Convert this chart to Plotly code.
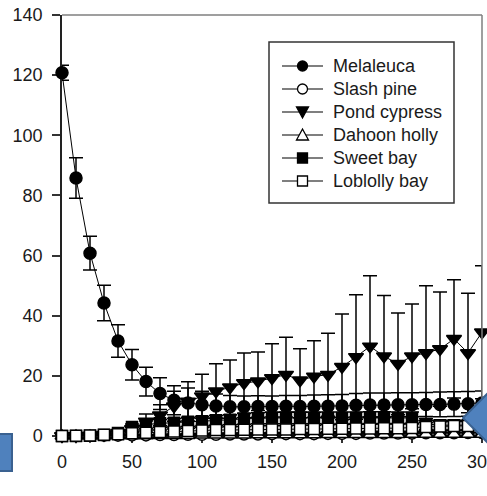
import plotly.graph_objects as go

days = list(range(0, 301, 10))

melaleuca = [120.8, 85.8, 60.8, 44.2, 31.6, 23.7, 18.1, 14.1, 11.9, 11.0,
             10.4, 10.0, 9.7, 9.7, 9.8, 9.8, 9.9, 9.8, 9.9, 9.9,
             10.0, 10.2, 10.3, 10.3, 10.4, 10.4, 10.5, 10.5, 10.6, 10.7, 11.0]
melaleuca_err = [2.5, 6.7, 5.6, 5.9, 5.4, 5.1, 4.8, 5.3, 4.8, 5.0,
                 4.5, 4.0, 3.8, 3.6, 3.6, 3.5, 3.6, 3.7, 3.7, 3.8,
                 3.8, 3.9, 4.0, 4.0, 4.0, 4.0, 4.0, 4.1, 4.1, 4.1, 4.0]

slash_pine = [0, 0, 0, 0.1, 0.1, 0.2, 0.2, 0.3, 0.3, 0.4,
              0.4, 0.4, 0.5, 0.5, 0.5, 0.6, 0.6, 0.6, 0.6, 0.7,
              0.7, 0.7, 0.8, 0.8, 0.8, 0.8, 0.9, 0.9, 0.9, 1.0, 1.0]
slash_pine_err = [0, 0, 0, 0.1, 0.1, 0.2, 0.2, 0.3, 0.3, 0.4,
                  0.4, 0.4, 0.5, 0.5, 0.5, 0.6, 0.6, 0.6, 0.6, 0.7,
                  0.7, 0.7, 0.8, 0.8, 0.8, 0.8, 0.9, 0.9, 0.9, 1.0, 1.0]

pond_cypress = [0, 0, 0.2, 0.4, 1.0, 2.3, 4.8, 6.9, 9.9, 11.5,
                13.2, 14.9, 16.2, 17.6, 18.2, 19.3, 20.4, 18.5, 19.8, 20.4,
                23.0, 26.3, 29.8, 26.5, 24.0, 26.5, 27.6, 28.9, 32.3, 27.6, 34.5]
pond_cypress_err = [0, 0, 0.2, 0.4, 0.6, 1.2, 2.5, 3.5, 5.0, 6.5,
                    7.3, 9.1, 9.1, 10.0, 9.7, 11.4, 12.4, 10.5, 11.9, 13.8,
                    17.6, 20.7, 23.5, 20.2, 16.9, 17.4, 22.4, 19.0, 19.7, 19.9, 22.1]

dahoon_holly = [0, 0, 0, 0, 0.1, 0.1, 0.1, 0.2, 0.2, 0.2,
                0.3, 0.3, 0.3, 0.3, 0.4, 0.4, 0.4, 0.4, 0.4, 0.5,
                0.5, 0.5, 0.5, 0.5, 0.5, 0.6, 0.6, 0.6, 0.6, 0.6, 0.6]
dahoon_holly_err = [0, 0, 0, 0, 0.1, 0.1, 0.1, 0.2, 0.2, 0.2,
                    0.3, 0.3, 0.3, 0.3, 0.4, 0.4, 0.4, 0.4, 0.4, 0.5,
                    0.5, 0.5, 0.5, 0.5, 0.5, 0.6, 0.6, 0.6, 0.6, 0.6, 0.6]

sweet_bay = [0, 0, 0.1, 0.3, 1.0, 3.0, 3.8, 4.2, 4.4, 4.7,
             4.9, 5.2, 5.4, 5.7, 5.9, 6.0, 6.0, 6.0, 6.0, 6.0,
             6.0, 6.0, 6.1, 6.1, 6.0, 6.0, 4.0, 3.6, 3.6, 3.6, 3.7]
sweet_bay_err = [0, 0, 0.1, 0.3, 0.6, 1.0, 1.2, 1.3, 1.4, 1.5,
                 1.6, 1.6, 1.7, 1.8, 1.8, 1.9, 1.9, 1.9, 1.9, 2.0,
                 2.0, 2.0, 2.0, 2.0, 2.0, 2.0, 1.8, 1.6, 1.6, 1.6, 1.6]

loblolly_bay = [0, 0.1, 0.2, 0.4, 0.6, 0.9, 1.1, 1.3, 1.5, 1.7,
                1.8, 2.0, 2.0, 2.1, 2.2, 2.2, 2.2, 2.3, 2.3, 2.4,
                2.4, 2.5, 2.5, 2.6, 2.6, 2.7, 3.0, 3.2, 3.3, 3.3, 3.5]
loblolly_bay_err = [0, 0.1, 0.2, 0.3, 0.4, 0.5, 0.6, 0.7, 0.8, 0.9,
                    1.0, 1.0, 1.1, 1.1, 1.2, 1.2, 1.2, 1.3, 1.3, 1.3,
                    1.4, 1.4, 1.4, 1.4, 1.5, 1.5, 1.5, 1.5, 1.5, 1.5, 1.5]

x_ticks = [0, 50, 100, 150, 200, 250, 300]
y_ticks = [0, 20, 40, 60, 80, 100, 120, 140]

series_names = ["Melaleuca", "Slash pine", "Pond cypress",
                "Dahoon holly", "Sweet bay", "Loblolly bay"]
series_values = [melaleuca, slash_pine, pond_cypress,
                 dahoon_holly, sweet_bay, loblolly_bay]
series_errors = [melaleuca_err, slash_pine_err, pond_cypress_err,
                 dahoon_holly_err, sweet_bay_err, loblolly_bay_err]
series_symbols = ["circle", "circle", "triangle-down",
                  "triangle-up", "square", "square"]
series_fills = ["black", "white", "black", "white", "black", "white"]
marker_sizes = [12, 11, 13, 12, 11, 11]

FONT = "Arial, Liberation Sans, sans-serif"
TXT = "#1a1a1a"
FS = 18
W, H = 487, 496
ML, MR, MT, MB = 62, 5, 15, 60

fig = go.Figure()
for name, vals, errs, sym, fill, size in zip(series_names, series_values, series_errors,
                                             series_symbols, series_fills, marker_sizes):
    fig.add_trace(go.Scatter(
        x=days, y=vals, name=name, mode="lines+markers",
        line=dict(color="black", width=1),
        marker=dict(symbol=sym, size=size, color=fill,
                    line=dict(color="black", width=1.5)),
        error_y=dict(type="data", array=errs, visible=True,
                     color="black", thickness=1.5, width=7),
        cliponaxis=False, showlegend=False,
    ))


def px2paper(px, py):
    return (px - ML) / (W - ML - MR), (H - MB - py) / (H - MT - MB)


def poly_path(points):
    conv = [px2paper(x, y) for x, y in points]
    return "M " + " L ".join("{:.5f} {:.5f}".format(a, b) for a, b in conv) + " Z"


shapes = [
    dict(type="line", xref="paper", yref="paper", x0=0, y0=1, x1=1, y1=1,
         line=dict(color="#7f7f7f", width=1.5)),
    dict(type="line", xref="paper", yref="paper", x0=1, y0=0, x1=1, y1=1,
         line=dict(color="#7f7f7f", width=1.5)),
]
# slide decorations
rx0, ry0 = px2paper(-3, 471)
rx1, ry1 = px2paper(12, 434)
shapes.append(dict(type="rect", xref="paper", yref="paper",
                   x0=rx0, y0=ry0, x1=rx1, y1=ry1,
                   fillcolor="#4f81bd", line=dict(color="#3a6190", width=2)))
shapes.append(dict(type="path", xref="paper", yref="paper",
                   path=poly_path([(463, 418), (492, 389), (521, 418), (492, 447)]),
                   fillcolor="#4f81bd", line=dict(color="#3a6190", width=2)))

# hand-built legend (box, sample line, marker, label)
bx0, by0 = px2paper(269, 203)
bx1, by1 = px2paper(454, 42)
shapes.append(dict(type="rect", xref="paper", yref="paper",
                   x0=bx0, y0=by0, x1=bx1, y1=by1,
                   fillcolor="white", line=dict(color="#333333", width=1.5)))
annotations = []
for i, (name, sym, fill) in enumerate(zip(series_names, series_symbols, series_fills)):
    cy = 66 + 23 * i
    cx = 302.5
    lx0, ly = px2paper(282, cy)
    lx1, _ = px2paper(323, cy)
    shapes.append(dict(type="line", xref="paper", yref="paper",
                       x0=lx0, y0=ly, x1=lx1, y1=ly,
                       line=dict(color="black", width=1.2)))
    mk = dict(xref="paper", yref="paper", fillcolor=fill,
              line=dict(color="black", width=1.3))
    if sym == "circle":
        a0, b0 = px2paper(cx - 5, cy + 5)
        a1, b1 = px2paper(cx + 5, cy - 5)
        shapes.append(dict(type="circle", x0=a0, y0=b0, x1=a1, y1=b1, **mk))
    elif sym == "square":
        a0, b0 = px2paper(cx - 5, cy + 5)
        a1, b1 = px2paper(cx + 5, cy - 5)
        shapes.append(dict(type="rect", x0=a0, y0=b0, x1=a1, y1=b1, **mk))
    elif sym == "triangle-down":
        shapes.append(dict(type="path", path=poly_path(
            [(cx - 6, cy - 5), (cx + 6, cy - 5), (cx, cy + 6)]), **mk))
    else:
        shapes.append(dict(type="path", path=poly_path(
            [(cx - 6, cy + 5), (cx + 6, cy + 5), (cx, cy - 6)]), **mk))
    tx, ty = px2paper(331, cy)
    annotations.append(dict(xref="paper", yref="paper", x=tx, y=ty,
                            xanchor="left", yanchor="middle", showarrow=False,
                            text=name, font=dict(size=FS, family=FONT, color=TXT)))

fig.update_layout(
    width=W, height=H,
    margin=dict(l=ML, r=MR, t=MT, b=MB, autoexpand=False),
    paper_bgcolor="white", plot_bgcolor="white",
    font=dict(family=FONT, size=FS, color=TXT),
    showlegend=False,
    shapes=shapes,
    annotations=annotations,
    xaxis=dict(range=[0, 300], tickvals=x_ticks, showgrid=False, zeroline=False,
               showline=True, linecolor="#222222", linewidth=1.5,
               ticks="outside", ticklen=5, tickwidth=1.5, tickcolor="#333333",
               ticklabelstandoff=4, ticklabeloverflow="allow", layer="below traces",
               automargin=False,
               tickfont=dict(size=FS, family=FONT, color=TXT)),
    yaxis=dict(range=[0, 140], tickvals=y_ticks, showgrid=False, zeroline=False,
               showline=True, linecolor="#222222", linewidth=1.5,
               ticks="outside", ticklen=8, tickwidth=1.5, tickcolor="#333333",
               ticklabelstandoff=6, layer="below traces", automargin=False,
               tickfont=dict(size=FS, family=FONT, color=TXT)),
)

fig.write_html("out.html")
